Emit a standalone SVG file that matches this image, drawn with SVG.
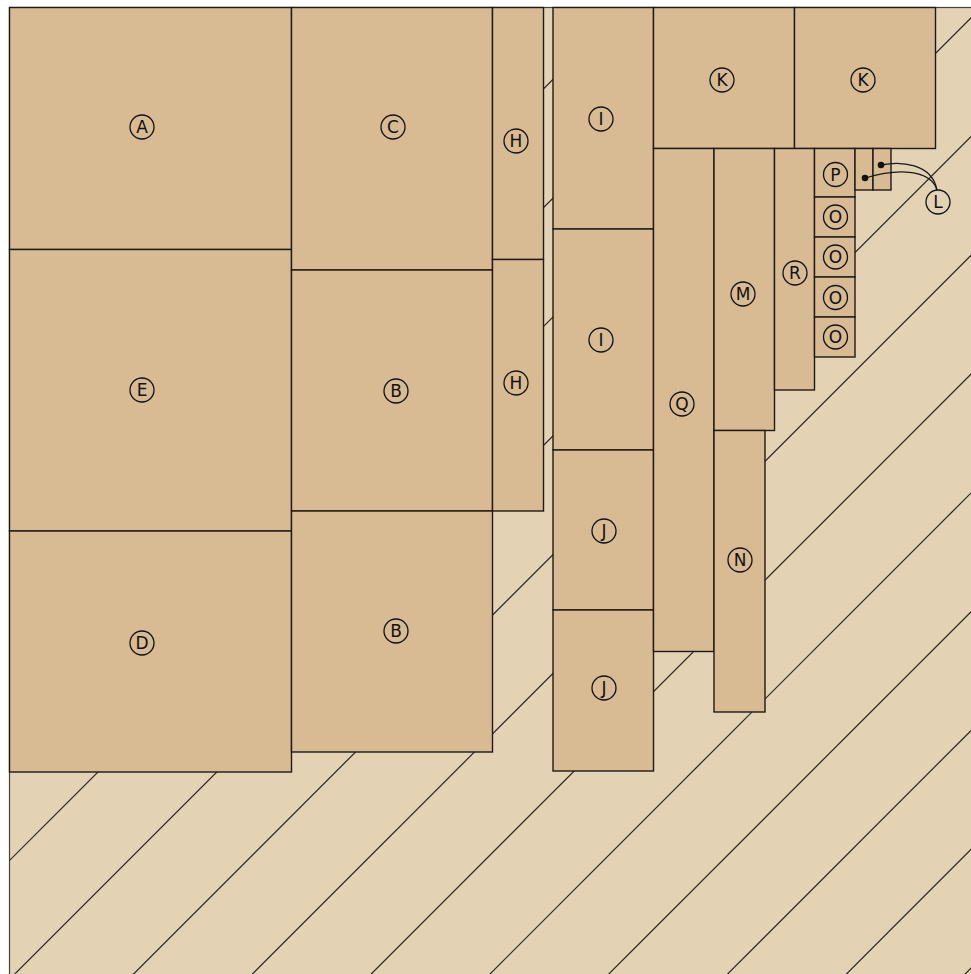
<svg xmlns="http://www.w3.org/2000/svg" width="971" height="974" viewBox="0 0 971 974">
<style>
.bg{fill:#e3d2b4;stroke:#444;stroke-width:1.2}
.hatch line{stroke:#2a2520;stroke-width:1.2}
.pc rect{fill:#d8bb92;stroke:#1e1a16;stroke-width:1.4}
.pc circle{fill:none;stroke:#111;stroke-width:1.3}
.pc text{font-family:"DejaVu Sans","Liberation Sans",sans-serif;font-size:17px;fill:#111;text-anchor:middle;dominant-baseline:central}
.conn path{fill:none;stroke:#1a1a1a;stroke-width:1.3}
.conn circle{fill:#111}
</style>
<defs>
<clipPath id="sheet"><rect x="9.5" y="7.5" width="970" height="970"/></clipPath>
</defs>
<rect width="971" height="974" fill="#ffffff"/>
<rect class="bg" x="9.5" y="7.5" width="970" height="970"/>
<g class="hatch" clip-path="url(#sheet)">
<line x1="-467.6" y1="1100" x2="732.4" y2="-100"/>
<line x1="-348.8" y1="1100" x2="851.2" y2="-100"/>
<line x1="-230" y1="1100" x2="970" y2="-100"/>
<line x1="-111.2" y1="1100" x2="1088.8" y2="-100"/>
<line x1="7.6" y1="1100" x2="1207.6" y2="-100"/>
<line x1="126.4" y1="1100" x2="1326.4" y2="-100"/>
<line x1="245.2" y1="1100" x2="1445.2" y2="-100"/>
<line x1="364" y1="1100" x2="1564" y2="-100"/>
<line x1="482.8" y1="1100" x2="1682.8" y2="-100"/>
<line x1="601.6" y1="1100" x2="1801.6" y2="-100"/>
<line x1="720.4" y1="1100" x2="1920.4" y2="-100"/>
<line x1="839.2" y1="1100" x2="2039.2" y2="-100"/>
</g>
<g class="pc" id="A"><rect x="9.5" y="7.5" width="282" height="242"/><circle cx="142" cy="127" r="12"/><text x="142" y="127">A</text></g>
<g class="pc" id="E"><rect x="9.5" y="249.5" width="282" height="281.5"/><circle cx="142" cy="390" r="12"/><text x="142" y="390">E</text></g>
<g class="pc" id="D"><rect x="9.5" y="531" width="282" height="241"/><circle cx="142" cy="643" r="12"/><text x="142" y="643">D</text></g>
<g class="pc" id="C"><rect x="291.5" y="7.5" width="201" height="262.5"/><circle cx="393" cy="127" r="12"/><text x="393" y="127">C</text></g>
<g class="pc" id="B1"><rect x="291.5" y="270" width="201" height="241"/><circle cx="396" cy="391" r="12"/><text x="396" y="391">B</text></g>
<g class="pc" id="B2"><rect x="291.5" y="511" width="201" height="241"/><circle cx="396" cy="631" r="12"/><text x="396" y="631">B</text></g>
<g class="pc" id="H1"><rect x="492.5" y="7.5" width="51" height="252"/><circle cx="516" cy="141" r="12"/><text x="516" y="141">H</text></g>
<g class="pc" id="H2"><rect x="492.5" y="259.5" width="51" height="251.5"/><circle cx="516" cy="383" r="12"/><text x="516" y="383">H</text></g>
<g class="pc" id="I1"><rect x="553" y="7.5" width="100.5" height="221.5"/><circle cx="601" cy="119" r="12"/><text x="601" y="119">I</text></g>
<g class="pc" id="I2"><rect x="553" y="229" width="100.5" height="221"/><circle cx="601" cy="340" r="12"/><text x="601" y="340">I</text></g>
<g class="pc" id="J1"><rect x="553" y="450" width="100.5" height="160"/><circle cx="604" cy="531" r="12"/><text x="604" y="531">J</text></g>
<g class="pc" id="J2"><rect x="553" y="610" width="100.5" height="161"/><circle cx="604" cy="688" r="12"/><text x="604" y="688">J</text></g>
<g class="pc" id="K1"><rect x="653.5" y="7.5" width="141" height="141"/><circle cx="722" cy="80" r="12"/><text x="722" y="80">K</text></g>
<g class="pc" id="K2"><rect x="794.5" y="7.5" width="141" height="141"/><circle cx="863" cy="80" r="12"/><text x="863" y="80">K</text></g>
<g class="pc" id="Q"><rect x="653.5" y="148.5" width="60.5" height="503"/><circle cx="682" cy="404" r="12"/><text x="682" y="404">Q</text></g>
<g class="pc" id="M"><rect x="714" y="148.5" width="60.5" height="282"/><circle cx="743" cy="294" r="12"/><text x="743" y="294">M</text></g>
<g class="pc" id="N"><rect x="714" y="430.5" width="51" height="281.5"/><circle cx="740" cy="560" r="12"/><text x="740" y="560">N</text></g>
<g class="pc" id="R"><rect x="774.5" y="148.5" width="40" height="241.5"/><circle cx="795" cy="273" r="12"/><text x="795" y="273">R</text></g>
<g class="pc" id="P"><rect x="814.5" y="148.5" width="40.5" height="48.5"/><circle cx="835.5" cy="174.5" r="12"/><text x="835.5" y="174.5">P</text></g>
<g class="pc" id="O1"><rect x="814.5" y="197" width="40.5" height="40"/><circle cx="835.5" cy="217" r="12"/><text x="835.5" y="217">O</text></g>
<g class="pc" id="O2"><rect x="814.5" y="237" width="40.5" height="40"/><circle cx="835.5" cy="257" r="12"/><text x="835.5" y="257">O</text></g>
<g class="pc" id="O3"><rect x="814.5" y="277" width="40.5" height="40"/><circle cx="835.5" cy="297.5" r="12"/><text x="835.5" y="297.5">O</text></g>
<g class="pc" id="O4"><rect x="814.5" y="317" width="40.5" height="40"/><circle cx="835.5" cy="337" r="12"/><text x="835.5" y="337">O</text></g>
<g class="pc" id="L1"><rect x="855" y="148.5" width="18" height="41.5"/></g>
<g class="pc" id="L2"><rect x="873" y="148.5" width="18" height="41.5"/></g>
<g class="pc" id="L"><circle cx="938" cy="202" r="12"/><text x="938" y="202">L</text></g>
<g class="conn" id="connectors">
<path d="M881,165 C900,161 932,163 937,190"/>
<path d="M865,178 C895,169 930,168 937,190"/>
<circle cx="881" cy="165" r="3.3"/>
<circle cx="865" cy="178" r="3.3"/>
</g>
</svg>
